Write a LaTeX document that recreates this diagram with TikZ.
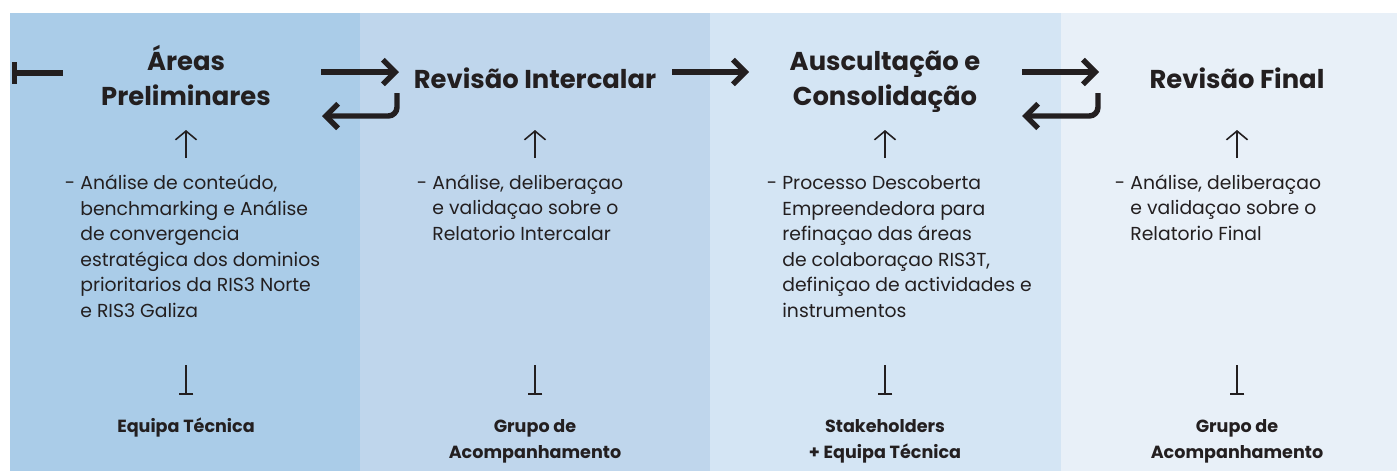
\documentclass[tikz,border=0pt]{standalone}
\usepackage{fontspec}
\setmainfont{Poppins}
\usepackage{tikz}
\usetikzlibrary{arrows.meta}
\usetikzlibrary{positioning}

\definecolor{panelA}{HTML}{AACCE8}
\definecolor{panelB}{HTML}{BFD6EC}
\definecolor{panelC}{HTML}{D4E5F4}
\definecolor{panelD}{HTML}{E8F0F8}
\definecolor{ink}{HTML}{231F20}

\begin{document}
\begin{tikzpicture}[x=0.02cm, y=-0.02cm,
  title/.style={font=\fontsize{14.7}{19.8}\selectfont\bfseries, align=center, text=ink, anchor=base, inner sep=0pt},
  desc/.style={font=\fontsize{10.7}{14.5}\selectfont, align=left, text=ink, anchor=base west, inner sep=0pt},
  who/.style={font=\fontsize{10}{14.7}\selectfont\bfseries, align=center, text=ink, anchor=base, inner sep=0pt},
  flow/.style={draw=ink, line width=3.1pt, -{Straight Barb[length=7pt,width=14pt]}},
  up/.style={draw=ink, line width=0.9pt, -{Straight Barb[length=5pt,width=12pt]}},
  down/.style={draw=ink, line width=0.9pt, -{Bar[width=8.5pt]}}]
\useasboundingbox (0,0) rectangle (1397,471);

% panels
\fill[panelA] (10,13) rectangle (360,471);
\fill[panelB] (360,13) rectangle (710,471);
\fill[panelC] (710,13) rectangle (1061,471);
\fill[panelD] (1061,13) rectangle (1397,471);

% stages (base = last line)
\node[title] (areas) at (186,105) {Áreas\\Preliminares};
\node[title] (intercalar) at (535,88) {Revisão Intercalar};
\node[title] (ausc) at (885,105) {Auscultação e\\Consolidação};
\node[title] (final) at (1237,88) {Revisão Final};

% descriptions
\node[desc] (d1) at (80,317) {\llap{-\ }Análise de conteúdo,\\benchmarking e Análise\\de convergencia\\estratégica dos dominios\\prioritarios da RIS3 Norte\\e RIS3 Galiza};
\node[desc] (d2) at (432,240) {\llap{-\ }Análise, deliberaçao\\e validaçao sobre o\\Relatorio Intercalar};
\node[desc] (d3) at (782,317) {\llap{-\ }Processo Descoberta\\Empreendedora para\\refinaçao das áreas\\de colaboraçao RIS3T,\\definiçao de actividades e\\instrumentos};
\node[desc] (d4) at (1130,240) {\llap{-\ }Análise, deliberaçao\\e validaçao sobre o\\Relatorio Final};

% who
\node[who] (w1) at (186,432) {Equipa Técnica};
\node[who] (w2) at (535,458) {Grupo de\\Acompanhamento};
\node[who] (w3) at (885,458) {Stakeholders\\+ Equipa Técnica};
\node[who] (w4) at (1237,458) {Grupo de\\Acompanhamento};

% arrow ends
\coordinate (s0) at (12,73);
\coordinate (s1) at (63,73);
\coordinate (a1) at (321,72);
\coordinate (b1) at (399,72);
\coordinate (c1) at (397,93);
\coordinate (e1) at (322,116);
\coordinate (a2) at (672,72);
\coordinate (b2) at (749,72);
\coordinate (a3) at (1022,72);
\coordinate (b3) at (1099,72);
\coordinate (c3) at (1098,93);
\coordinate (e3) at (1022,116);

\draw[draw=ink, line width=3.1pt, {Bar[width=12pt]}-] (s0) -- (s1);
\draw[flow] (a1) -- (b1);
\draw[flow, rounded corners=5pt] (c1) |- (e1);
\draw[flow] (a2) -- (b2);
\draw[flow] (a3) -- (b3);
\draw[flow, rounded corners=5pt] (c3) |- (e3);

% up and down marks
\foreach \x/\n in {186/1, 535/2, 885/3, 1237/4} {
  \coordinate (u\n) at (\x,158);
  \coordinate (t\n) at (\x,130);
  \coordinate (m\n) at (\x,365);
  \coordinate (k\n) at (\x,395);
  \draw[up] (u\n) -- (t\n);
  \draw[down] (m\n) -- (k\n);
}
\end{tikzpicture}
\end{document}
